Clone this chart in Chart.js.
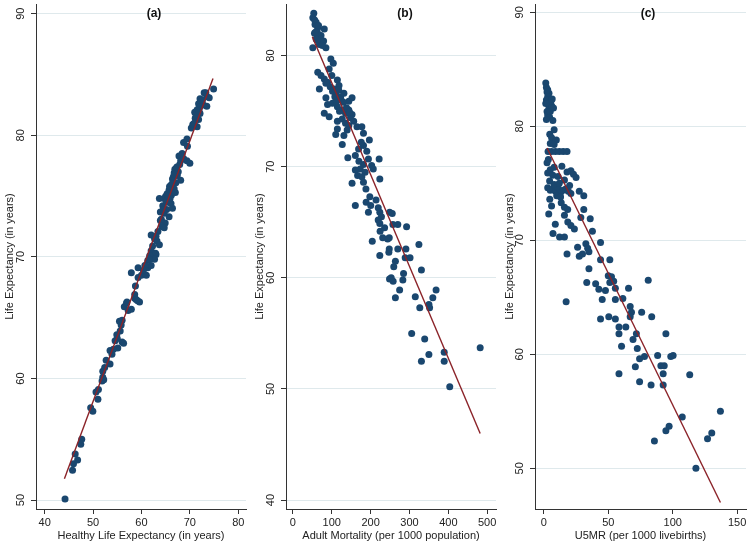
<!DOCTYPE html>
<html>
<head>
<meta charset="utf-8">
<script src="https://cdn.jsdelivr.net/npm/chart.js@4.4.1/dist/chart.umd.min.js"></script>
<style>
  html, body { margin: 0; padding: 0; background: #ffffff; }
  #wrap { display: flex; width: 750px; height: 545px; }
  canvas { display: block; }
</style>
</head>
<body>
<div id="wrap">
  <canvas id="chartA" width="250" height="545"></canvas>
  <canvas id="chartB" width="250" height="545"></canvas>
  <canvas id="chartC" width="250" height="545"></canvas>
</div>
<script>
// (a) healthy life expectancy vs life expectancy
const haleA = [
  44.2, 45.75, 45.95, 46.8, 46.3, 47.45, 47.65, 49.5, 49.95, 51.0,
  50.6, 51.1, 51.85, 52.0, 52.2, 52.0, 52.4, 53.5, 52.7, 53.5,
  53.9, 54.55, 55.0, 56.0, 54.9, 55.8, 55.45, 56.0, 56.45, 56.9,
  57.25, 57.9, 58.6, 59.2, 59.6, 58.75, 59.3, 57.9, 59.3, 60.0,
  61.0, 61.3, 62.0, 62.5, 63.0, 56.3, 55.1, 58.6, 58.9, 57.0,
  74.9, 72.95, 73.5, 72.1, 71.8, 72.8, 73.5, 71.5, 72.1, 71.1,
  71.8, 70.8, 70.3, 71.5, 69.4, 68.7, 69.5, 67.75, 68.1, 69.4,
  70.0, 68.7, 66.75, 67.4, 66.4, 68.1, 67.1, 66.1, 65.7, 66.75,
  63.7, 64.7, 65.4, 66.1, 64.4, 65.2, 66.4, 63.9, 64.7, 65.7,
  63.9, 64.9, 64.2, 64.7, 62.0, 62.7, 63.2, 63.7, 62.3, 62.0,
  62.9, 61.7, 62.7, 61.3, 60.7, 65.0, 65.5, 66.2, 67.0, 66.6,
  67.6, 65.9, 66.9, 72.3, 71.0, 70.6, 72.0, 74.0, 73.3, 65.3,
  65.8, 66.3, 66.8, 67.3, 64.5, 65.1, 65.6, 67.9, 68.4, 71.3,
  71.9, 72.6, 70.9, 63.4, 63.0, 64.1, 60.4, 61.6, 54.2, 55.6
];
const leA = [
  50.1, 52.45, 53.0, 53.3, 53.8, 54.6, 55.0, 57.6, 57.3, 58.3,
  58.9, 59.1, 59.8, 60.1, 59.9, 60.6, 60.9, 61.2, 61.5, 62.3,
  62.0, 63.1, 63.3, 63.0, 63.6, 64.4, 64.7, 64.8, 65.9, 66.2,
  65.6, 65.7, 66.6, 66.4, 66.3, 67.6, 68.3, 68.7, 69.1, 68.5,
  68.5, 69.1, 69.3, 69.9, 70.2, 62.9, 62.5, 66.9, 66.5, 66.3,
  83.8, 83.5, 83.2, 83.0, 82.6, 82.5, 82.4, 82.1, 81.8, 81.4,
  81.3, 80.9, 80.6, 80.7, 79.7, 79.4, 79.1, 78.3, 77.9, 77.9,
  77.7, 78.1, 76.9, 76.7, 76.4, 76.3, 76.1, 75.9, 75.5, 75.6,
  74.8, 74.8, 74.5, 74.4, 74.2, 73.9, 74.0, 73.7, 73.6, 73.3,
  73.0, 72.8, 72.5, 72.4, 71.8, 71.5, 71.3, 71.0, 70.9, 70.5,
  70.3, 70.1, 69.8, 69.7, 69.3, 75.0, 74.9, 75.1, 75.3, 76.6,
  77.0, 74.8, 77.2, 82.8, 81.9, 80.9, 82.3, 83.1, 83.5, 75.2,
  75.8, 76.0, 76.8, 77.4, 73.9, 74.6, 75.0, 77.6, 78.5, 81.7,
  82.0, 82.9, 81.0, 72.1, 71.7, 73.1, 68.9, 69.8, 62.4, 63.9
];
const fitAx = [44.07, 74.78];
const fitAy = [51.76, 84.68];

// (b) adult mortality vs life expectancy
const amB = [
  53.8, 51.3, 59.8, 64, 55.6, 72.4, 80.8, 79.1, 68.2, 85,
  51.3, 59.8, 57, 62, 66, 56, 70, 75, 97.7, 104,
  93.4, 64, 72.4, 80.8, 89.2, 100.2, 114.5, 118.7, 106, 68.2,
  85, 110.3, 122.9, 131.3, 143.9, 152.3, 85, 89.2, 101.8, 114.5,
  127.1, 135.5, 143.9, 152.3, 148.1, 80.8, 93.4, 114.5, 127.1, 135.5,
  156.5, 164.9, 177.5, 143.9, 114.5, 139.7, 131.3, 181.7, 110.3, 196.8,
  127.1, 181.7, 169.1, 160.7, 190.2, 194.4, 181.7, 141.4, 222, 173.3,
  185.9, 202.7, 206.9, 160.7, 166.6, 177.5, 181.7, 223.7, 152.3, 160.7,
  188.5, 200.3, 194.4, 219.6, 223.7, 227.9, 219.6, 249, 255.7, 223.7,
  257.4, 270, 292.6, 224.5, 204.3, 231.2, 243.9, 248, 324.3, 248,
  270, 290.9, 223.7, 247, 253, 248.7, 258, 259.6, 263.8, 289,
  301.5, 284.8, 283, 274.7, 263.8, 315, 326.6, 330.8, 350.1, 351.8,
  360.1, 368.5, 305.7, 339.2, 330.8, 350, 389.4, 389.4, 403.7, 482,
  118, 124, 130, 138, 146, 108, 112, 120, 96, 102,
  62, 66, 58, 76, 170, 176, 188, 214, 236, 198
];
const leB = [
  83.8, 83.4, 83.0, 82.5, 82.0, 81.8, 82.4, 81.3, 81.0, 80.7,
  80.7, 81.5, 82.8, 82.2, 81.9, 83.2, 81.5, 81.2, 79.7, 79.3,
  78.8, 78.5, 78.2, 77.9, 77.6, 78.2, 77.8, 77.3, 77.0, 77.0,
  77.5, 76.6, 76.3, 76.6, 75.9, 76.2, 76.2, 75.6, 75.7, 75.4,
  75.1, 74.8, 75.1, 74.7, 74.4, 74.8, 74.5, 74.1, 74.3, 73.9,
  74.1, 73.6, 73.6, 73.7, 73.4, 73.3, 72.8, 73.0, 72.9, 72.4,
  72.0, 71.9, 71.6, 71.0, 71.4, 70.7, 70.2, 70.8, 70.7, 69.8,
  69.5, 70.1, 69.8, 69.7, 69.2, 69.1, 68.6, 68.9, 68.5, 66.5,
  66.8, 66.5, 65.9, 66.3, 65.9, 65.5, 65.2, 65.9, 65.8, 64.9,
  64.8, 64.8, 64.6, 64.2, 63.3, 63.6, 63.5, 63.6, 63.0, 62.6,
  62.6, 62.6, 62.0, 62.3, 60.0, 59.9, 59.7, 61.0, 61.5, 61.8,
  61.8, 60.4, 59.8, 58.9, 58.2, 58.3, 57.3, 60.7, 57.6, 57.3,
  58.2, 58.9, 55.0, 54.5, 52.5, 53.1, 53.3, 52.5, 50.2, 53.7,
  76.9, 76.0, 75.8, 75.3, 74.9, 76.3, 75.9, 75.0, 77.2, 76.8,
  81.4, 82.7, 82.1, 80.9, 70.5, 72.2, 68.0, 67.0, 64.5, 67.3
];
const fitBx = [50, 482];
const fitBy = [81.7, 46.0];

// (c) under-five mortality vs life expectancy
const u5C = [
  1.5, 2, 2.5, 3, 2, 3.5, 4, 2.5, 3, 4.5,
  5, 6, 5.5, 4, 3, 1.5, 2, 7, 7.5, 6.5,
  4.6, 6, 8, 9.7, 5, 3.3, 6, 9, 12, 15,
  18, 8, 3, 5, 7, 21, 23, 25, 3, 5,
  7, 9, 11, 13, 15, 17, 19, 21, 8, 12,
  16, 14, 18, 4.6, 27.5, 31, 13.5, 16, 18.5, 31,
  3.8, 16, 28.7, 36, 18.6, 21, 23.7, 8.9, 37.7, 7.1,
  12.2, 16, 44, 26.2, 32.6, 34, 35, 30, 18, 27.5,
  44, 51.2, 35, 33.3, 40.2, 42.7, 47.8, 51.2, 54.2, 55.5,
  65.7, 81, 50, 52.5, 17.3, 45.3, 55.5, 61.3, 67, 50.4,
  55.5, 44, 68, 75.9, 67, 58.3, 63.6, 58.3, 83.7, 94.7,
  60.3, 71.8, 69.2, 72.5, 78.1, 74.3, 88.3, 90.8, 93.4, 71,
  98.5, 100.3, 58.3, 74.3, 83.2, 92.6, 92.6, 113.2, 107.4, 97.2,
  94.7, 85.8, 127, 130.3, 137, 118, 2.5, 3.5, 4.5, 10,
  11, 13, 6, 8, 20
];
const leC = [
  83.8, 83.4, 83.0, 82.6, 82.3, 82.0, 81.6, 81.3, 81.0, 80.8,
  81.3, 81.8, 82.2, 82.9, 83.2, 82.0, 80.6, 80.5, 81.6, 82.4,
  79.3, 79.0, 79.7, 78.8, 78.5, 77.8, 77.8, 77.8, 77.8, 77.8,
  77.8, 78.4, 75.9, 76.2, 75.7, 76.1, 75.8, 75.5, 74.6, 74.4,
  74.5, 74.3, 74.6, 74.2, 74.4, 74.5, 74.3, 74.1, 74.9, 75.0,
  75.3, 76.5, 76.0, 73.6, 74.3, 73.9, 73.3, 72.9, 72.7, 72.7,
  72.3, 72.2, 72.0, 71.9, 71.6, 71.3, 71.0, 71.4, 70.8, 70.6,
  70.3, 70.3, 69.8, 69.4, 69.7, 69.3, 69.0, 68.8, 68.8, 68.6,
  68.3, 68.3, 67.5, 66.3, 66.2, 65.7, 65.6, 66.3, 66.4, 65.8,
  65.8, 66.5, 66.9, 66.8, 64.6, 64.8, 64.8, 64.9, 64.2, 63.3,
  63.1, 63.1, 63.7, 63.7, 63.3, 62.4, 62.4, 61.8, 63.3, 61.8,
  60.7, 61.8, 61.3, 60.5, 59.8, 59.6, 59.9, 59.0, 59.0, 58.9,
  59.8, 59.9, 58.3, 57.6, 57.3, 58.3, 57.3, 58.2, 54.5, 53.7,
  53.3, 52.4, 52.6, 53.1, 55.0, 50.0, 76.8, 77.1, 75.2, 73.9,
  75.6, 73.8, 73.0, 76.4, 74.8
];
const fitCx = [2.5, 137];
const fitCy = [78.1, 47.0];

const ticksXA = [40, 50, 60, 70, 80];
const ticksYA = [50, 60, 70, 80, 90];
const ticksXB = [0, 100, 200, 300, 400, 500];
const ticksYB = [40, 50, 60, 70, 80];
const ticksXC = [0, 50, 100, 150];
const ticksYC = [50, 60, 70, 80, 90];

const yTitle = 'Life Expectancy (in years)';

const dotColor = '#1a476f';
const fitColor = '#8b2329';
const axisColor = '#333333';
const gridColor = '#dfe9ec';
const textColor = '#222222';
const fontFamily = '"Liberation Sans", Arial, sans-serif';

// "(a)", "(b)", "(c)" written inside the plot area
const panelLabel = {
  id: 'panelLabel',
  afterDraw(chart, args, opts) {
    const { ctx, chartArea } = chart;
    ctx.save();
    ctx.font = 'bold 12px ' + fontFamily;
    ctx.fillStyle = '#111111';
    ctx.textAlign = 'center';
    ctx.textBaseline = 'middle';
    ctx.fillText(opts.text, chartArea.left + opts.dx, 14);
    ctx.restore();
  }
};

function makePanel(canvasId, cfg) {
  const ctx = document.getElementById(canvasId).getContext('2d');
  const points = cfg.xs.map((x, i) => ({ x: x, y: cfg.ys[i] }));
  const fit = cfg.fitX.map((x, i) => ({ x: x, y: cfg.fitY[i] }));

  return new Chart(ctx, {
    type: 'scatter',
    data: {
      datasets: [
        {
          type: 'line',
          data: fit,
          borderColor: fitColor,
          borderWidth: 1.4,
          pointRadius: 0,
          tension: 0,
          fill: false
        },
        {
          data: points,
          backgroundColor: dotColor,
          borderColor: dotColor,
          borderWidth: 0,
          pointRadius: 3.5
        }
      ]
    },
    options: {
      responsive: false,
      animation: false,
      layout: { padding: 0 },
      plugins: {
        legend: { display: false },
        tooltip: { enabled: false },
        panelLabel: { text: cfg.label, dx: cfg.labelDx }
      },
      scales: {
        x: {
          type: 'linear',
          min: cfg.xMin,
          max: cfg.xMax,
          afterBuildTicks: s => { s.ticks = cfg.xTicks.map(v => ({ value: v })); },
          afterFit: s => { s.height = 36; s.paddingLeft = 0; s.paddingRight = 0; },
          grid: { drawOnChartArea: false, tickLength: 5, tickColor: axisColor },
          border: { color: axisColor, width: 1 },
          ticks: {
            color: textColor,
            font: { family: fontFamily, size: 11 },
            padding: 2,
            maxRotation: 0,
            autoSkip: false
          },
          title: {
            display: true,
            text: cfg.xTitle,
            color: textColor,
            font: { family: fontFamily, size: 11 },
            padding: { top: 0, bottom: 2.5 }
          }
        },
        y: {
          type: 'linear',
          min: cfg.yMin,
          max: cfg.yMax,
          afterBuildTicks: s => { s.ticks = cfg.yTicks.map(v => ({ value: v })); },
          afterFit: s => { s.width = cfg.yWidth; s.paddingTop = 0; s.paddingBottom = 0; },
          grid: { color: gridColor, tickLength: 5, tickColor: axisColor },
          border: { color: axisColor, width: 1 },
          ticks: {
            color: textColor,
            font: { family: fontFamily, size: 11 },
            padding: 4,
            minRotation: 90,
            maxRotation: 90,
            crossAlign: 'center',
            autoSkip: false
          },
          title: {
            display: true,
            text: yTitle,
            color: textColor,
            font: { family: fontFamily, size: 11 },
            padding: { top: 3.5, bottom: 0 }
          }
        }
      }
    },
    plugins: [panelLabel]
  });
}

makePanel('chartA', {
  xs: haleA, ys: leA, fitX: fitAx, fitY: fitAy,
  xMin: 38.2, xMax: 81.6, yMin: 49.27, yMax: 90.8,
  xTicks: ticksXA, yTicks: ticksYA, yWidth: 36,
  xTitle: 'Healthy Life Expectancy (in years)',
  label: '(a)', labelDx: 118
});

makePanel('chartB', {
  xs: amB, ys: leB, fitX: fitBx, fitY: fitBy,
  xMin: -17.7, xMax: 522.7, yMin: 39.2, yMax: 84.64,
  xTicks: ticksXB, yTicks: ticksYB, yWidth: 36,
  xTitle: 'Adult Mortality (per 1000 population)',
  label: '(b)', labelDx: 119
});

makePanel('chartC', {
  xs: u5C, ys: leC, fitX: fitCx, fitY: fitCy,
  xMin: -6.85, xMax: 156.85, yMin: 46.43, yMax: 90.73,
  xTicks: ticksXC, yTicks: ticksYC, yWidth: 35,
  xTitle: 'U5MR (per 1000 livebirths)',
  label: '(c)', labelDx: 113
});
</script>
</body>
</html>
